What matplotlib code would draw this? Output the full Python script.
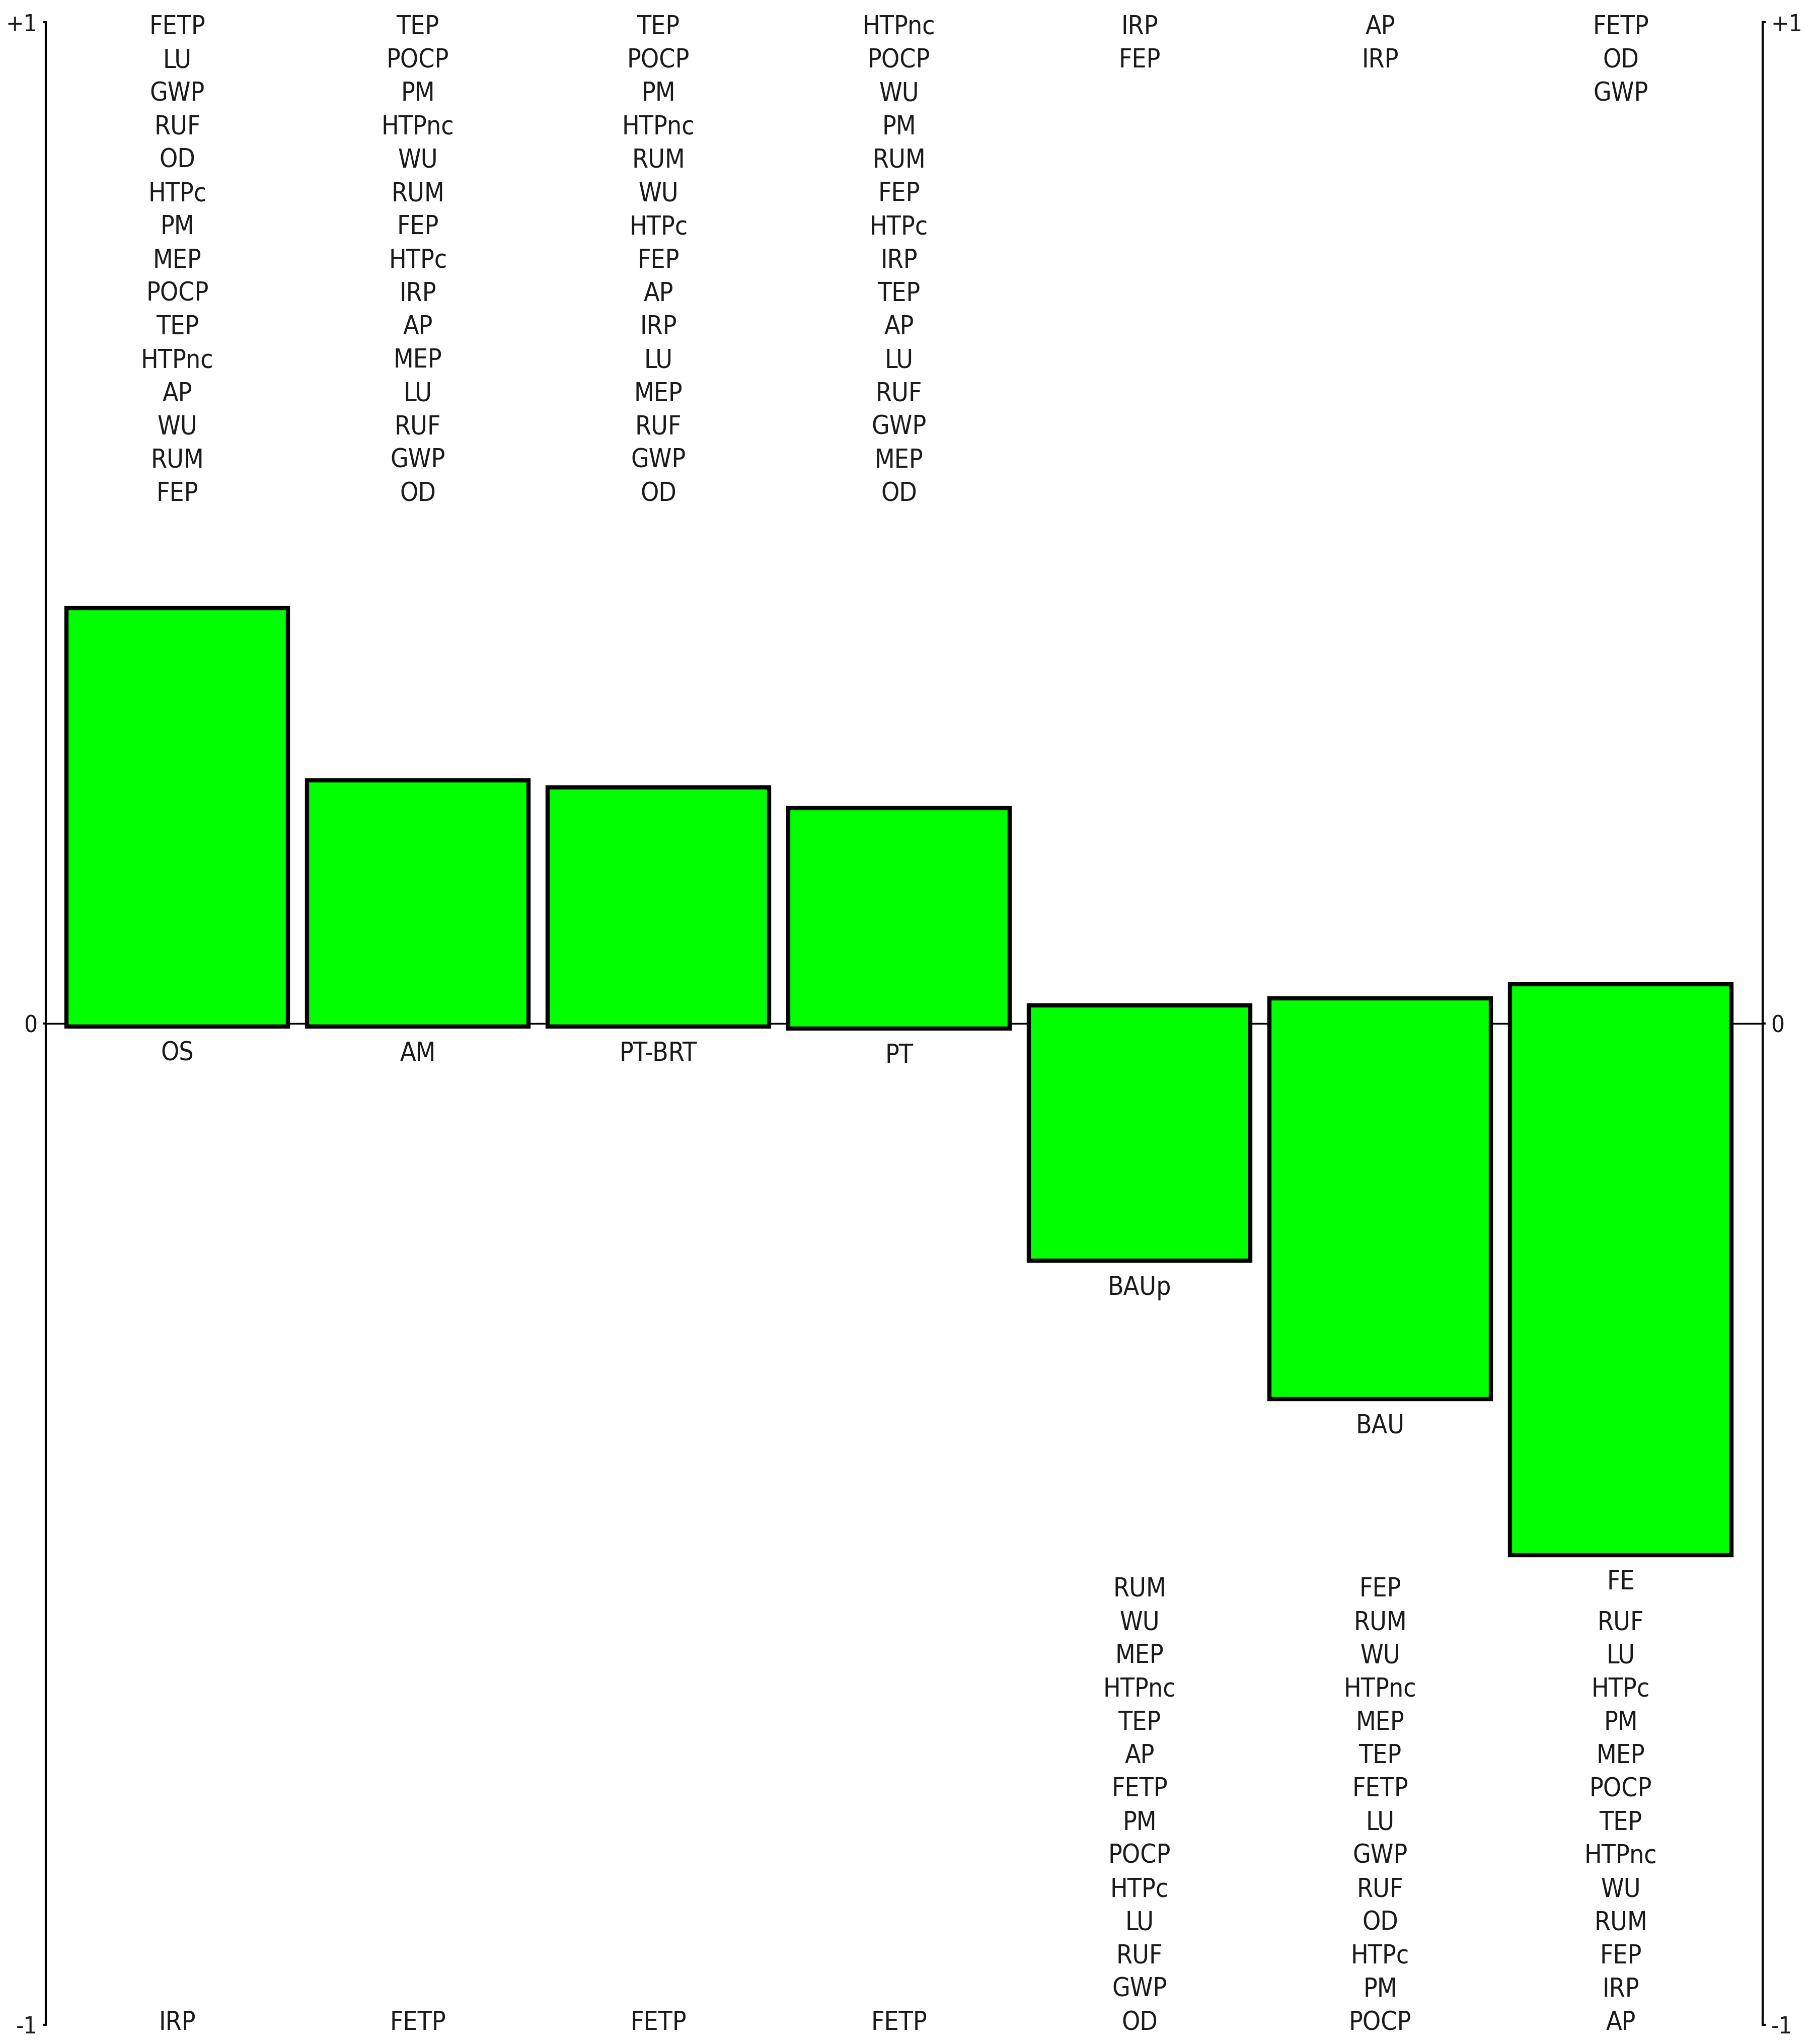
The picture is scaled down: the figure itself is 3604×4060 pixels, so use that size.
import matplotlib
matplotlib.use('Agg')
import matplotlib.pyplot as plt

# Alternatives (ordered as in the ranking)
alternatives = ['OS', 'AM', 'PT-BRT', 'PT', 'BAUp', 'BAU', 'FE']

# Sum of positive / negative criterion contributions to phi
phi_pos = [0.415, 0.243, 0.236, 0.215, 0.018, 0.025, 0.039]
phi_neg = [-0.003, -0.003, -0.003, -0.005, -0.237, -0.375, -0.531]

# Criteria listed above each bar (positive contributions, from top)
crit_pos = [
    ['FETP', 'LU', 'GWP', 'RUF', 'OD', 'HTPc', 'PM', 'MEP', 'POCP', 'TEP',
     'HTPnc', 'AP', 'WU', 'RUM', 'FEP'],
    ['TEP', 'POCP', 'PM', 'HTPnc', 'WU', 'RUM', 'FEP', 'HTPc', 'IRP', 'AP',
     'MEP', 'LU', 'RUF', 'GWP', 'OD'],
    ['TEP', 'POCP', 'PM', 'HTPnc', 'RUM', 'WU', 'HTPc', 'FEP', 'AP', 'IRP',
     'LU', 'MEP', 'RUF', 'GWP', 'OD'],
    ['HTPnc', 'POCP', 'WU', 'PM', 'RUM', 'FEP', 'HTPc', 'IRP', 'TEP', 'AP',
     'LU', 'RUF', 'GWP', 'MEP', 'OD'],
    ['IRP', 'FEP'],
    ['AP', 'IRP'],
    ['FETP', 'OD', 'GWP'],
]

# Criteria listed below each bar (negative contributions, from top)
crit_neg = [
    ['IRP'],
    ['FETP'],
    ['FETP'],
    ['FETP'],
    ['RUM', 'WU', 'MEP', 'HTPnc', 'TEP', 'AP', 'FETP', 'PM', 'POCP', 'HTPc',
     'LU', 'RUF', 'GWP', 'OD'],
    ['FEP', 'RUM', 'WU', 'HTPnc', 'MEP', 'TEP', 'FETP', 'LU', 'GWP', 'RUF',
     'OD', 'HTPc', 'PM', 'POCP'],
    ['RUF', 'LU', 'HTPc', 'PM', 'MEP', 'POCP', 'TEP', 'HTPnc', 'WU', 'RUM',
     'FEP', 'IRP', 'AP'],
]

font = dict(family='DejaVu Sans', fontstretch='condensed', fontsize=37, color='#1a1a1a')

fig = plt.figure(figsize=(36.05, 40.6), dpi=100)
ax = fig.add_axes([0.0252, 0.00936, 0.9462, 0.9798])

x = list(range(len(alternatives)))
heights = [p - n for p, n in zip(phi_pos, phi_neg)]

ax.axhline(0, color='black', lw=2.5, zorder=1)
ax.bar(x, heights, bottom=phi_neg, width=0.92, color='#00ff00',
       edgecolor='black', linewidth=6, zorder=2)

step = 0.0333
for i, name in enumerate(alternatives):
    ax.text(i, phi_neg[i] - 0.027, name, ha='center', va='center', **font)
    for k, c in enumerate(crit_pos[i]):
        ax.text(i, 0.995 - k * step, c, ha='center', va='center', **font)
    n = len(crit_neg[i])
    for k, c in enumerate(crit_neg[i]):
        ax.text(i, -0.998 + (n - 1 - k) * step, c, ha='center', va='center', **font)

ax.set_xlim(-0.547, 6.59)
ax.set_ylim(-1, 1)
ax.set_xticks([])
ax.set_yticks([-1, 0, 1])
ax.set_yticklabels(['-1', '0', '+1'])
ax.tick_params(axis='y', left=True, right=True, labelleft=True, labelright=True,
               length=4, width=3, pad=8, labelsize=34, labelcolor='#1a1a1a')
for lab in ax.get_yticklabels():
    lab.set_fontstretch('condensed')

for s in ['top', 'bottom']:
    ax.spines[s].set_visible(False)
for s in ['left', 'right']:
    ax.spines[s].set_linewidth(3)
    ax.spines[s].set_color('black')

ax.patch.set_visible(False)
fig.savefig('out.png', dpi=100, facecolor='white')
